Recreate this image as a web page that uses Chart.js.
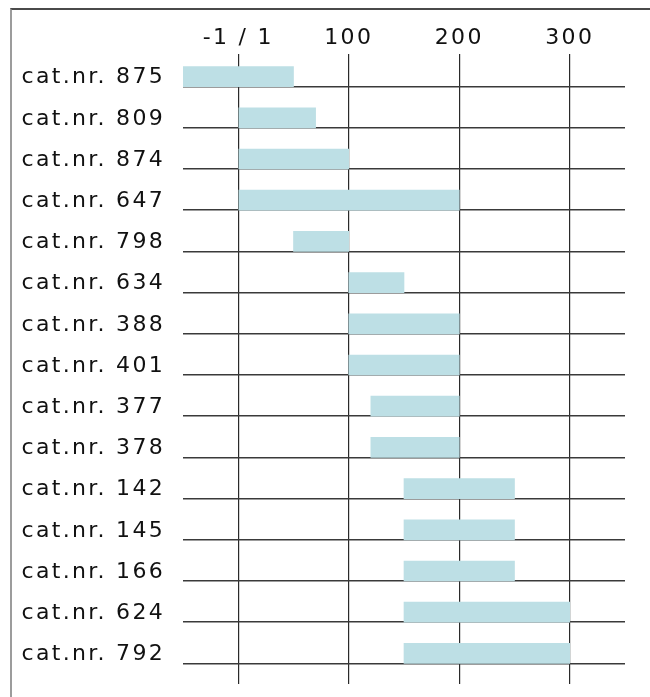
<!DOCTYPE html>
<html>
<head>
<meta charset="utf-8">
<script src="https://cdn.jsdelivr.net/npm/chart.js@4/dist/chart.umd.min.js"></script>
<style>
  html, body { margin: 0; padding: 0; background: #fff; overflow: hidden; }
  #frame { position: absolute; left: 10px; top: 8px; width: 700px; height: 760px;
           border-top: 2px solid #4a4a4a; border-left: 2px solid #9c9c9c; }
  canvas#ranges { position: absolute; left: 0; top: 0; }
</style>
</head>
<body>
<div id="frame"></div>
<canvas id="ranges" width="650" height="697"></canvas>
<script>
const categories = ['cat.nr. 875', 'cat.nr. 809', 'cat.nr. 874', 'cat.nr. 647', 'cat.nr. 798',
  'cat.nr. 634', 'cat.nr. 388', 'cat.nr. 401', 'cat.nr. 377', 'cat.nr. 378',
  'cat.nr. 142', 'cat.nr. 145', 'cat.nr. 166', 'cat.nr. 624', 'cat.nr. 792'];
const startValues = [-50, 0, 0, 0, 50, 100, 100, 100, 120, 120, 150, 150, 150, 150, 150];
const endValues = [50, 70, 100, 200, 100, 150, 200, 200, 200, 200, 250, 250, 250, 300, 300];
const xTicks = [0, 100, 200, 300];
const zeroLabel = '-1 / 1';

const font = { family: '"DejaVu Sans", sans-serif', size: 22 };
const textColor = '#111';

// canvas text has no letter spacing by default, the labels in the picture are wide
const spacing = {
  id: 'spacing',
  beforeUpdate(c) { c.ctx.letterSpacing = '2.3px'; },
  beforeDraw(c) { c.ctx.letterSpacing = '2.3px'; },
};

const ctx = document.querySelector('canvas#ranges').getContext('2d');

new Chart(ctx, {
  type: 'bar',
  data: {
    labels: categories,
    datasets: [
      {
        data: categories.map((_, i) => [startValues[i], endValues[i]]),
        backgroundColor: '#bddfe5',
        barThickness: 20,
      },
      {
        // empty slot so the bar sits on top of its row line
        data: categories.map(() => null),
        barThickness: 20,
      },
    ],
  },
  options: {
    indexAxis: 'y',
    responsive: false,
    animation: false,
    layout: { padding: { right: 25, bottom: 13 } },
    plugins: { legend: { display: false }, tooltip: { enabled: false } },
    scales: {
      x: {
        position: 'top',
        min: -50,
        max: 350,
        afterBuildTicks: (s) => { s.ticks = xTicks.map((v) => ({ value: v })); },
        afterFit: (s) => { s.height = 66; },
        ticks: {
          font: font,
          color: textColor,
          padding: 3,
          maxRotation: 0,
          callback: (v) => (v === 0 ? zeroLabel : v),
        },
        grid: { color: '#2a2a2a', lineWidth: 1.2, tickLength: 12 },
        border: { display: false },
      },
      y: {
        offset: true,
        afterFit: (s) => { s.width = 183; s.paddingTop = 0; s.paddingBottom = 0; },
        ticks: { font: font, color: textColor, padding: 18, labelOffset: -9 },
        grid: { offset: false, drawTicks: false, color: '#3a3a3a', lineWidth: 1.5 },
        border: { display: false },
      },
    },
  },
  plugins: [spacing],
});
</script>
</body>
</html>
